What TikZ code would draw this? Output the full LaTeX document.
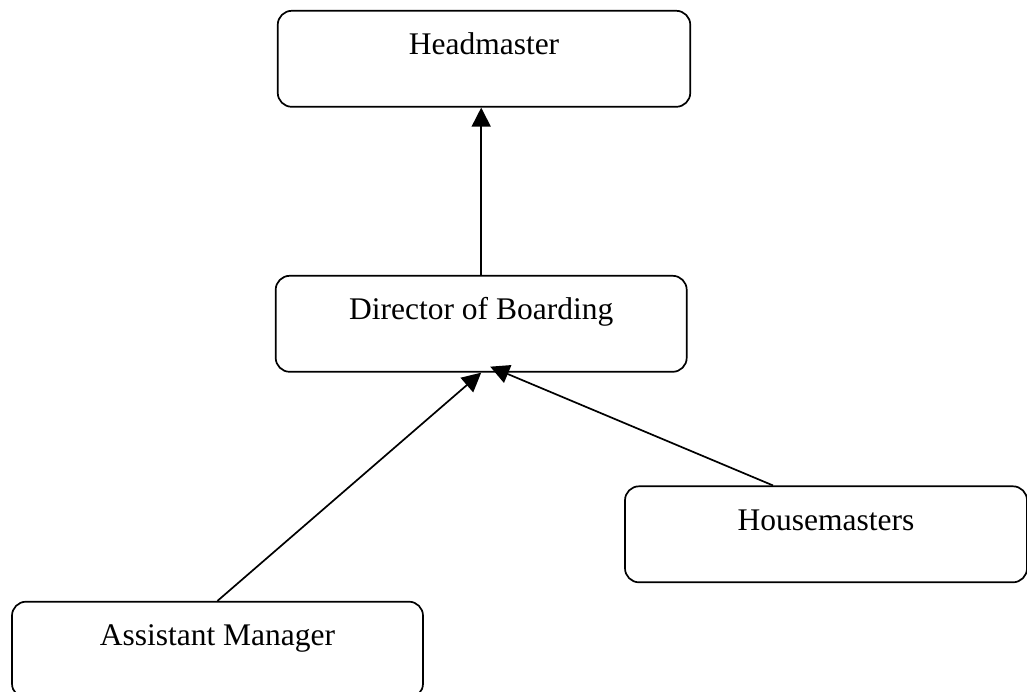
\documentclass[tikz,border=0pt]{standalone}
\usepackage{fontspec}
\setmainfont{Liberation Serif}
\usetikzlibrary{arrows.meta,calc}
\begin{document}
\begin{tikzpicture}[x=1pt,y=-1pt,
  box/.style={draw,line width=1.7pt,rounded corners=14pt,rectangle,inner sep=0pt,
    text height=44pt,text depth=52pt,font=\fontsize{31.5}{36}\selectfont},
  conn/.style={line width=1.7pt,-{Triangle[length=19pt,width=19pt]}}]
\useasboundingbox (0,0) rectangle (1027,691);
\clip (0,0) rectangle (1027,691);
\fill[white] (0,0) rectangle (1027,691);
\node[box,minimum width=412.5pt] (head) at (484,58.8) {Headmaster};
\node[box,minimum width=411pt] (dir) at (481.2,323.8) {Director of Boarding};
\node[box,minimum width=402pt] (hm) at (826,534.3) {Housemasters};
\node[box,minimum width=411pt] (am) at (217.5,649.7) {Assistant Manager};
\coordinate (hmstart) at ($(hm.north)+(-53,0)$);
\coordinate (hmtip) at ($(dir.south)+(9,-6)$);
\draw[conn] (dir.north) -- (dir.north |- head.south);
\draw[conn] (am.north) -- (dir.south);
\draw[conn] (hmstart) -- (hmtip);
\end{tikzpicture}
\end{document}
